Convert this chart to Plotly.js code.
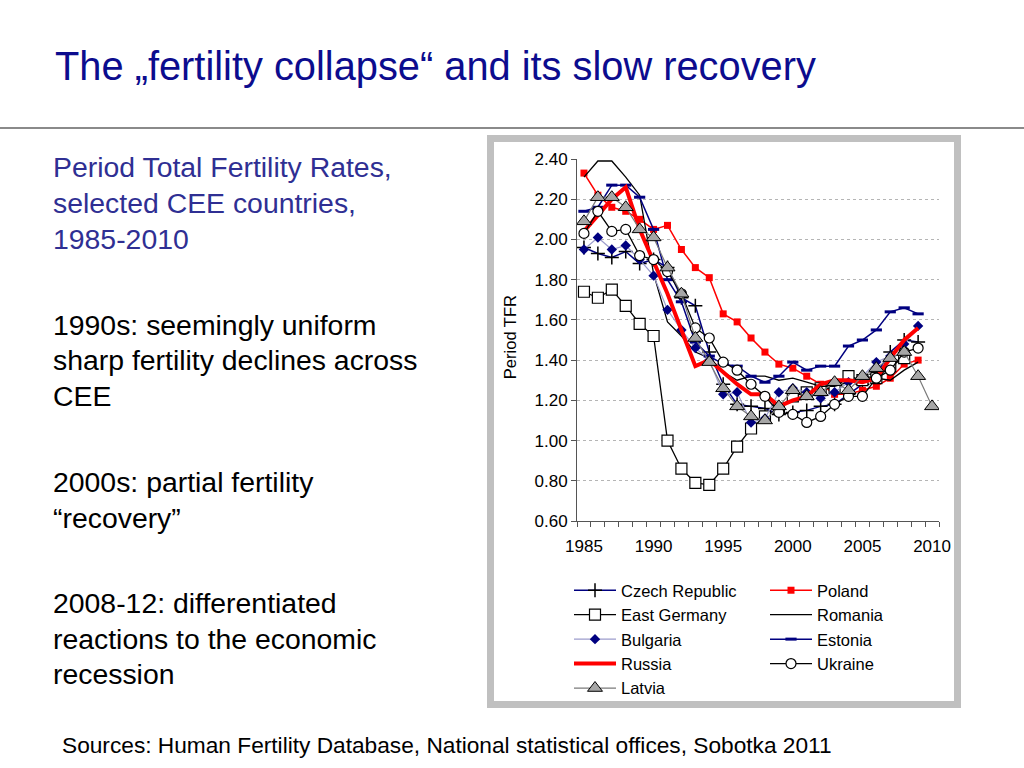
<!DOCTYPE html>
<html>
<head>
<meta charset="utf-8">
<script src="https://cdn.plot.ly/plotly-3.0.1.min.js"></script>
<style>
  html, body { margin:0; padding:0; background:#fff; }
  body { width:1024px; height:768px; position:relative; overflow:hidden; font-family:"Liberation Sans", Arial, sans-serif; }
  .t { position:absolute; white-space:nowrap; line-height:36px; }
  #title { left:55px; top:44px; font-size:39.8px; line-height:44px; color:#0c0c8e; }
  #rule { position:absolute; left:0; top:127px; width:1024px; height:2px; background:#8a8a8a; }
  .blue { color:#2f2f93; font-size:28.4px; }
  .blk { color:#000; font-size:28.4px; }
  #src { left:62px; top:732px; font-size:22.7px; line-height:26px; color:#000; }
  #frame { position:absolute; left:487px; top:135px; width:474px; height:573px; background:#c0c0c0; }
  #inner { position:absolute; left:494px; top:142px; width:460px; height:559px; background:#fff; }
  #chart { position:absolute; left:487px; top:135px; width:474px; height:573px; }
</style>
</head>
<body>
<div id="title" class="t">The „fertility collapse“ and its slow recovery</div>
<div id="rule"></div>

<div class="t blue" style="left:53px;top:149px;">Period Total Fertility Rates,</div>
<div class="t blue" style="left:53px;top:185px;">selected CEE countries,</div>
<div class="t blue" style="left:53px;top:221px;">1985-2010</div>

<div class="t blk" style="left:53px;top:307px;">1990s: seemingly uniform</div>
<div class="t blk" style="left:53px;top:342px;">sharp fertility declines across</div>
<div class="t blk" style="left:53px;top:378px;">CEE</div>

<div class="t blk" style="left:53px;top:464px;">2000s: partial fertility</div>
<div class="t blk" style="left:53px;top:500px;">“recovery”</div>

<div class="t blk" style="left:53px;top:585px;">2008-12: differentiated</div>
<div class="t blk" style="left:53px;top:621px;">reactions to the economic</div>
<div class="t blk" style="left:53px;top:656px;">recession</div>

<div id="src" class="t">Sources: Human Fertility Database, National statistical offices, Sobotka 2011</div>

<div id="frame"></div>
<div id="inner"></div>
<div id="chart"></div>

<script>
// ---- data ----
const years = [1985,1986,1987,1988,1989,1990,1991,1992,1993,1994,1995,1996,1997,1998,1999,2000,2001,2002,2003,2004,2005,2006,2007,2008,2009,2010];
const xTickLabels = [1985,1990,1995,2000,2005,2010];
const yTicks = [0.6,0.8,1.0,1.2,1.4,1.6,1.8,2.0,2.2,2.4];
const yTitle = 'Period TFR';

const czech      = [1.96,1.93,1.91,1.94,1.88,1.90,1.86,1.71,1.67,1.44,1.28,1.18,1.17,1.16,1.13,1.14,1.15,1.17,1.18,1.23,1.28,1.33,1.44,1.50,1.49,null];
const poland     = [2.33,2.22,2.16,2.14,2.10,2.05,2.07,1.95,1.86,1.81,1.63,1.59,1.51,1.44,1.38,1.36,1.32,1.28,1.23,1.23,1.25,1.27,1.31,1.38,1.40,null];
const eastGermany= [1.74,1.71,1.75,1.67,1.58,1.52,1.00,0.86,0.79,0.78,0.86,0.97,1.06,1.12,1.16,1.22,1.24,1.26,1.26,1.32,1.30,1.31,1.37,1.41,null,null];
const romania    = [2.31,2.39,2.39,2.31,2.22,1.83,1.59,1.52,1.44,1.41,1.34,1.30,1.32,1.32,1.30,1.31,1.29,1.27,1.27,1.29,1.32,1.31,1.30,1.35,1.39,null];
const bulgaria   = [1.95,2.01,1.95,1.97,1.90,1.82,1.65,1.55,1.46,1.40,1.23,1.24,1.09,1.11,1.24,1.26,1.24,1.21,1.24,1.29,1.32,1.39,1.42,1.48,1.57,null];
const estonia    = [2.14,2.16,2.27,2.27,2.21,2.05,1.80,1.69,1.49,1.42,1.38,1.37,1.32,1.29,1.32,1.39,1.35,1.37,1.37,1.47,1.50,1.55,1.64,1.66,1.63,null];
const russia     = [2.04,2.12,2.20,2.26,2.05,1.89,1.73,1.55,1.37,1.40,1.34,1.28,1.23,1.23,1.17,1.20,1.22,1.28,1.30,1.30,1.29,1.31,1.41,1.50,1.56,null];
const ukraine    = [2.03,2.14,2.04,2.05,1.92,1.90,1.84,1.73,1.56,1.51,1.39,1.35,1.28,1.22,1.14,1.13,1.09,1.12,1.18,1.22,1.22,1.31,1.35,1.44,1.46,null];
const latvia     = [2.09,2.21,2.21,2.16,2.05,2.01,1.86,1.73,1.51,1.39,1.26,1.17,1.12,1.10,1.17,1.25,1.22,1.24,1.29,1.25,1.32,1.36,1.41,1.44,1.32,1.17];

const FONT = '"Liberation Sans", Arial, sans-serif';

const traces = [
  {name:'Czech Republic', y:czech, legend:'legend',
   line:{color:'#000080', width:1.5},
   marker:{symbol:'cross-thin', size:10, line:{color:'#000000', width:1.5}}},
  {name:'Poland', y:poland, legend:'legend2',
   line:{color:'#ff0000', width:1.5},
   marker:{symbol:'square', size:7, color:'#ff0000'}},
  {name:'East Germany', y:eastGermany, legend:'legend',
   line:{color:'#000000', width:1.3},
   marker:{symbol:'square', size:11, color:'#ffffff', line:{color:'#000000', width:1.2}}},
  {name:'Romania', y:romania, legend:'legend2', mode:'lines',
   line:{color:'#000000', width:1.3}},
  {name:'Bulgaria', y:bulgaria, legend:'legend',
   line:{color:'#9c9ccc', width:1.2},
   marker:{symbol:'diamond', size:8, color:'#000080'}},
  {name:'Estonia', y:estonia, legend:'legend2',
   line:{color:'#000080', width:1.5},
   marker:{symbol:'line-ew', size:8, line:{color:'#000080', width:3}}},
  {name:'Russia', y:russia, legend:'legend', mode:'lines',
   line:{color:'#ff0000', width:4}},
  {name:'Ukraine', y:ukraine, legend:'legend2',
   line:{color:'#000000', width:1.3},
   marker:{symbol:'circle', size:10, color:'#ffffff', line:{color:'#000000', width:1.2}}},
  {name:'Latvia', y:latvia, legend:'legend',
   line:{color:'#7a7a7a', width:1.2},
   marker:{symbol:'triangle-up', size:13, color:'#a6a6a6', line:{color:'#000000', width:1}}}
].map(t => Object.assign({type:'scatter', mode:'lines+markers', x:years, connectgaps:false}, t));

const legendCommon = {
  orientation:'v', xanchor:'left', yanchor:'top', xref:'container', yref:'container',
  bgcolor:'rgba(0,0,0,0)', borderwidth:0,
  font:{family:FONT, size:16.5, color:'#000'},
  itemwidth:42, tracegroupgap:0, itemclick:false
};

const layout = {
  width:474, height:573,
  margin:{l:90, r:22, t:24, b:187, pad:0, autoexpand:false},
  paper_bgcolor:'rgba(0,0,0,0)',
  plot_bgcolor:'#ffffff',
  showlegend:true,
  font:{family:FONT, size:16, color:'#000'},
  xaxis:{
    range:[1984.5, 2010.5], tickmode:'array', tickvals:xTickLabels, ticktext:xTickLabels.map(String),
    ticks:'', showline:true, linecolor:'#555', linewidth:1, showgrid:false, zeroline:false,
    ticklabelstandoff:10,
    tickfont:{family:FONT, size:17, color:'#000'},
    minor:{tickmode:'linear', tick0:1984.5, dtick:1, ticks:'outside', ticklen:5, tickcolor:'#555', showgrid:false}
  },
  yaxis:{
    range:[0.6, 2.4], tickmode:'array', tickvals:yTicks, tickformat:'.2f',
    ticks:'outside', ticklen:5, tickcolor:'#555',
    showline:true, linecolor:'#555', linewidth:1,
    showgrid:true, gridcolor:'#b5b5b5', griddash:'dot', gridwidth:1, zeroline:false,
    tickfont:{family:FONT, size:17, color:'#000'}
  },
  annotations:[{
    text:yTitle, textangle:-90, showarrow:false,
    xref:'paper', yref:'paper', x:-0.185, y:0.508, xanchor:'center', yanchor:'middle',
    font:{family:FONT, size:16.5, color:'#000'}
  }],
  legend: Object.assign({}, legendCommon, {x:0.173, y:0.2356}),
  legend2: Object.assign({}, legendCommon, {x:0.5865, y:0.2356})
};

Plotly.newPlot('chart', traces, layout, {displayModeBar:false, staticPlot:true});
</script>
</body>
</html>
